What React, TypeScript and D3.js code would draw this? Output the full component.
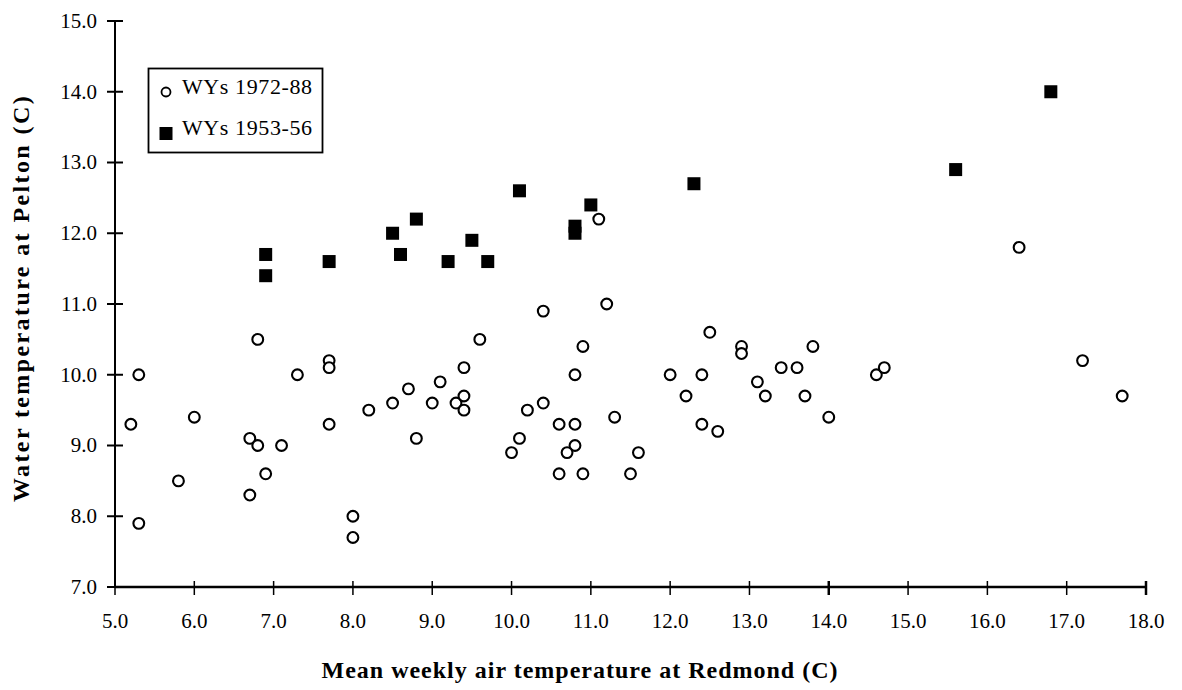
import React from "react";
import * as d3 from "d3";

// WYs 1972-88 (open circles)
const recentX = [5.3, 5.2, 5.3, 5.8, 6.0, 6.8, 6.7, 6.8, 6.7, 6.9, 7.1, 7.3, 7.7, 7.7, 7.7, 8.0, 8.0, 8.2, 8.5, 8.7, 8.8, 9.0, 9.1, 9.3, 9.4, 9.4, 9.4, 9.6,
  10.2, 10.4, 10.1, 10.0, 10.6, 10.8, 10.8, 10.9, 10.8, 10.7, 10.6, 10.9, 11.3, 11.6, 11.5, 12.5, 12.0, 12.4, 12.2, 12.4, 12.6, 12.9, 12.9, 13.1, 13.2, 13.4, 13.6, 13.8, 13.7, 14.0,
  14.6, 14.7, 17.2, 17.7, 11.1, 11.2, 10.4, 16.4];
const recentY = [10.0, 9.3, 7.9, 8.5, 9.4, 10.5, 9.1, 9.0, 8.3, 8.6, 9.0, 10.0, 10.2, 10.1, 9.3, 8.0, 7.7, 9.5, 9.6, 9.8, 9.1, 9.6, 9.9, 9.6, 10.1, 9.7, 9.5, 10.5,
  9.5, 9.6, 9.1, 8.9, 9.3, 9.3, 10.0, 10.4, 9.0, 8.9, 8.6, 8.6, 9.4, 8.9, 8.6, 10.6, 10.0, 10.0, 9.7, 9.3, 9.2, 10.4, 10.3, 9.9, 9.7, 10.1, 10.1, 10.4, 9.7, 9.4,
  10.0, 10.1, 10.2, 9.7, 12.2, 11.0, 10.9, 11.8];

// WYs 1953-56 (filled squares)
const earlyX = [6.9, 6.9, 7.7, 8.5, 8.8, 8.6, 9.2, 9.5, 9.7, 10.1, 10.8, 10.8, 11.0, 12.3, 15.6, 16.8];
const earlyY = [11.7, 11.4, 11.6, 12.0, 12.2, 11.7, 11.6, 11.9, 11.6, 12.6, 12.1, 12.0, 12.4, 12.7, 12.9, 14.0];

const xTicks = [5, 6, 7, 8, 9, 10, 11, 12, 13, 14, 15, 16, 17, 18];
const yTicks = [7, 8, 9, 10, 11, 12, 13, 14, 15];
const legendLabels = ["WYs 1972-88", "WYs 1953-56"];
const xTitle = "Mean weekly air temperature at Redmond (C)";
const yTitle = "Water temperature at Pelton (C)";

const FONT = "'Liberation Serif', 'Times New Roman', serif";

export default function App() {
  const W = 1182, H = 690;
  const x = d3.scaleLinear().domain([5, 18]).range([115, 1146]);
  const y = d3.scaleLinear().domain([7, 15]).range([587, 21]);
  const fmt = d3.format(".1f");
  const sq = 13;

  return (
    <svg width={W} height={H} viewBox={`0 0 ${W} ${H}`}
      style={{ position: "absolute", left: 0, top: 0, background: "#fff" }}
      fontFamily={FONT}>
      <rect x={0} y={0} width={W} height={H} fill="#fff" />
      {/* y axis */}
      <line x1={x(5)} x2={x(5)} y1={y(15)} y2={y(7)} stroke="#000" strokeWidth={2} />
      {yTicks.map((t) => (
        <g key={"yt" + t}>
          <line x1={x(5) - 8} x2={x(5) + 8} y1={y(t)} y2={y(t)} stroke="#000" strokeWidth={2} />
          <text x={97} y={y(t)} dy="0.33em" textAnchor="end" fontSize={21}>{fmt(t)}</text>
        </g>
      ))}
      {/* x axis */}
      <line x1={x(5)} x2={x(18)} y1={y(7)} y2={y(7)} stroke="#000" strokeWidth={2.5} />
      {xTicks.map((t) => (
        <g key={"xt" + t}>
          <line x1={x(t)} x2={x(t)} y1={y(7) - 6} y2={y(7) + 8} stroke="#000" strokeWidth={t === 18 || t === 14 ? 2.5 : 1.5} />
          <text x={x(t)} y={628} textAnchor="middle" fontSize={21}>{fmt(t)}</text>
        </g>
      ))}
      {/* titles */}
      <text x={580} y={678} textAnchor="middle" fontSize={24} fontWeight="bold" letterSpacing={1}>{xTitle}</text>
      <text transform={`translate(29,298) rotate(-90)`} textAnchor="middle" fontSize={24} fontWeight="bold" letterSpacing={2.4}>{yTitle}</text>

      {/* data: circles */}
      {recentX.map((v, i) => (
        <circle key={"c" + i} cx={x(v)} cy={y(recentY[i])} r={5.4} fill="#fff" stroke="#000" strokeWidth={2.1} />
      ))}
      {/* data: squares */}
      {earlyX.map((v, i) => (
        <rect key={"s" + i} x={x(v) - sq / 2} y={y(earlyY[i]) - sq / 2} width={sq} height={sq} fill="#000" />
      ))}

      {/* legend */}
      <rect x={148.5} y={68.5} width={174} height={84} fill="#fff" stroke="#000" strokeWidth={1.8} />
      <circle cx={166} cy={92} r={4.5} fill="#fff" stroke="#000" strokeWidth={1.8} />
      <text x={182} y={94} fontSize={22} letterSpacing={0.6}>{legendLabels[0]}</text>
      <rect x={159.5} y={127} width={13} height={13} fill="#000" />
      <text x={182} y={135} fontSize={22} letterSpacing={0.6}>{legendLabels[1]}</text>
    </svg>
  );
}
